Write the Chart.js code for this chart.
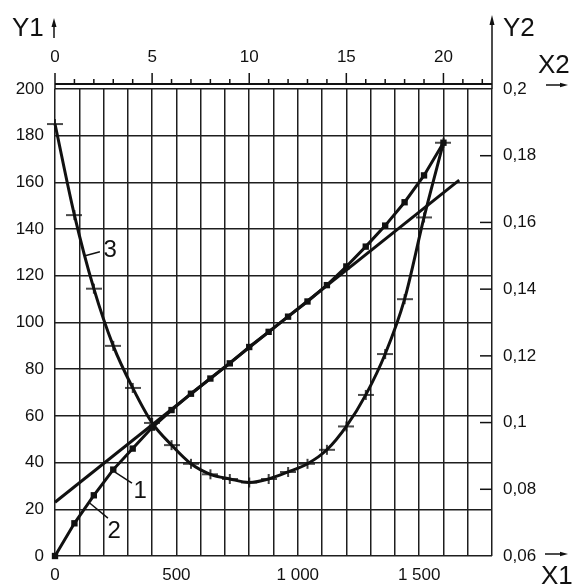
<!DOCTYPE html>
<html><head><meta charset="utf-8">
<script src="https://cdn.jsdelivr.net/npm/chart.js@4/dist/chart.umd.min.js"></script>
<style>html,body{margin:0;padding:0;background:#fff}canvas{display:block}</style>
</head><body>
<canvas id="c" width="572" height="584"></canvas>
<script>
// ---- data ----
const x2Points = [0,1,2,3,4,5,6,7,8,9,10,11,12,13,14,15,16,17,18,19,20];
const curve2Y1 = [0,14,26,37,46,55,62.5,69.5,76,82.5,89.5,96,102.5,109,116,124,132.5,141.5,151.5,163,177];
const curve3Y1 = [185,146,114.5,90,72,57,47.5,39.5,35,33,31.5,33,36,39.5,45.5,55.5,69,86.5,110,145,177];
const curve1X1 = [0,1665];
const curve1Y1 = [23,161];
const x1Range = [0,1800];
const x2Range = [0,22.5];
const y1Range = [0,200];
const y2Range = [0.06,0.2];
const y2InnerTicks = [0.08,0.1,0.12,0.14,0.16,0.18];
const curveLabels = ['1','2','3'];
// annotation anchors in X1/Y1 data units: [leaderStartX, leaderStartY, leaderEndX, leaderEndY, textX, textY]
const labelAnchors = [
  [247,35.9,317,31.2,323,25],
  [144,22.6,218,16.2,216,7.5],
  [124,128.6,185,130.3,200,128]
];

const INK = '#111';
const FONT = "'Liberation Sans', Arial, sans-serif";

function crossImage(){
  const c = document.createElement('canvas');
  c.width = 16; c.height = 12;
  const g = c.getContext('2d');
  g.strokeStyle = INK; g.lineWidth = 1.6;
  g.beginPath(); g.moveTo(0,6); g.lineTo(16,6); g.moveTo(8,1); g.lineTo(8,11); g.stroke();
  return c;
}

function arrow(ctx,x1,y1,x2,y2,head,hw){
  const a = Math.atan2(y2-y1,x2-x1);
  ctx.beginPath(); ctx.moveTo(x1,y1);
  ctx.lineTo(x2-Math.cos(a)*head*0.6,y2-Math.sin(a)*head*0.6); ctx.stroke();
  ctx.beginPath();
  ctx.moveTo(x2,y2);
  ctx.lineTo(x2-Math.cos(a)*head-Math.sin(a)*hw, y2-Math.sin(a)*head+Math.cos(a)*hw);
  ctx.lineTo(x2-Math.cos(a)*head+Math.sin(a)*hw, y2-Math.sin(a)*head-Math.cos(a)*hw);
  ctx.closePath(); ctx.fill();
}

const decor = {
  id:'decor',
  afterDraw(chart){
    const ctx = chart.ctx, a = chart.chartArea, s = chart.scales;
    ctx.save();
    ctx.strokeStyle = INK; ctx.fillStyle = INK; ctx.lineCap='butt';
    // top X2 axis line and ticks
    const ty = a.top - 5;
    ctx.lineWidth = 2;
    ctx.beginPath(); ctx.moveTo(a.left, ty); ctx.lineTo(a.right, ty); ctx.stroke();
    ctx.lineWidth = 1.5;
    for (let v = 0; v <= 22; v++) {
      const px = s.x2.getPixelForValue(v);
      const len = v % 5 === 0 ? 11 : 5;
      ctx.beginPath(); ctx.moveTo(px, ty); ctx.lineTo(px, ty - len); ctx.stroke();
    }
    ctx.beginPath(); ctx.moveTo(a.left, a.top); ctx.lineTo(a.left, ty); ctx.stroke();
    // Y2 arrow (right border extended)
    ctx.beginPath(); ctx.moveTo(a.right, a.top); ctx.lineTo(a.right, ty); ctx.stroke();
    arrow(ctx, a.right, ty, a.right, 15, 10, 2.5);
    // Y2 inner ticks
    y2InnerTicks.forEach(v => {
      const py = s.y2.getPixelForValue(v);
      ctx.beginPath(); ctx.moveTo(a.right - 12, py); ctx.lineTo(a.right, py); ctx.stroke();
    });
    // Y1 arrow
    arrow(ctx, a.left - 1, 38, a.left - 1, 18, 9, 2.5);
    // X2 arrow and X1 arrow
    arrow(ctx, 546, 85, 568, 85, 8, 2.3);
    arrow(ctx, 545, 554, 568, 554, 8, 2.3);
    // axis titles
    ctx.font = '26px ' + FONT;
    ctx.textBaseline = 'alphabetic'; ctx.textAlign = 'left';
    ctx.fillText('Y1', 12, 36);
    ctx.fillText('Y2', 503, 36);
    ctx.fillText('X2', 538, 73);
    ctx.fillText('X1', 541, 584);
    // curve labels
    ctx.lineWidth = 1.5;
    ctx.font = '24px ' + FONT;
    labelAnchors.forEach((p, i) => {
      const x1 = s.x.getPixelForValue(p[0]), y1 = s.y.getPixelForValue(p[1]);
      const x2 = s.x.getPixelForValue(p[2]), y2 = s.y.getPixelForValue(p[3]);
      ctx.beginPath(); ctx.moveTo(x1, y1); ctx.lineTo(x2, y2); ctx.stroke();
      ctx.fillText(curveLabels[i], s.x.getPixelForValue(p[4]), s.y.getPixelForValue(p[5]));
    });
    ctx.restore();
  }
};

const tickFont = { family: FONT, size: 17 };
const gridOpts = { color: '#1e1e1e', lineWidth: 1.5, drawTicks: false };

new Chart(document.getElementById('c'), {
  type: 'line',
  data: {
    datasets: [
      { label: '1', data: curve1X1.map((x,i)=>({x, y: curve1Y1[i]})), xAxisID:'x', yAxisID:'y',
        borderColor: INK, borderWidth: 3, pointRadius: 0, clip: false },
      { label: '2', data: x2Points.map((x,i)=>({x, y: curve2Y1[i]})), xAxisID:'x2', yAxisID:'y',
        borderColor: INK, borderWidth: 3, pointStyle: 'rect', pointRadius: 4.5,
        pointBackgroundColor: INK, pointBorderColor: INK, pointBorderWidth: 0, clip: false },
      { label: '3', data: x2Points.map((x,i)=>({x, y: curve3Y1[i]})), xAxisID:'x2', yAxisID:'y',
        borderColor: INK, borderWidth: 3, pointStyle: crossImage(), pointRadius: 6,
        tension: 0.4, cubicInterpolationMode: 'monotone', clip: false }
    ]
  },
  options: {
    responsive: false, animation: false,
    layout: { padding: 0 },
    plugins: { legend: { display: false }, tooltip: { enabled: false } },
    scales: {
      x: { type: 'linear', position: 'bottom', min: x1Range[0], max: x1Range[1],
        grid: gridOpts, border: { display: false },
        ticks: { stepSize: 100, autoSkip: false, maxRotation: 0, color: INK, font: tickFont, padding: 9,
          callback: v => (v % 500 === 0) ? String(v).replace(/\B(?=(\d{3})+(?!\d))/g, ' ') : '' },
        afterFit: sc => { sc.height = 28; } },
      x2: { type: 'linear', position: 'top', min: x2Range[0], max: x2Range[1],
        grid: { display: false, drawTicks: false }, border: { display: false },
        ticks: { stepSize: 1, autoSkip: false, maxRotation: 0, color: INK, font: tickFont, padding: 21,
          callback: v => (v % 5 === 0) ? String(v) : '' },
        afterFit: sc => { sc.height = 89; } },
      y: { type: 'linear', position: 'left', min: y1Range[0], max: y1Range[1],
        grid: gridOpts, border: { display: false },
        ticks: { stepSize: 20, color: INK, font: tickFont, padding: 11 },
        afterFit: sc => { sc.width = 55; } },
      y2: { type: 'linear', position: 'right', min: y2Range[0], max: y2Range[1],
        grid: { display: false, drawTicks: false }, border: { display: false },
        ticks: { stepSize: 0.02, color: INK, font: tickFont, padding: 11,
          callback: v => String(parseFloat(v.toFixed(2))).replace('.', ',') },
        afterFit: sc => { sc.width = 80; } }
    }
  },
  plugins: [decor]
});
</script>
</body></html>
